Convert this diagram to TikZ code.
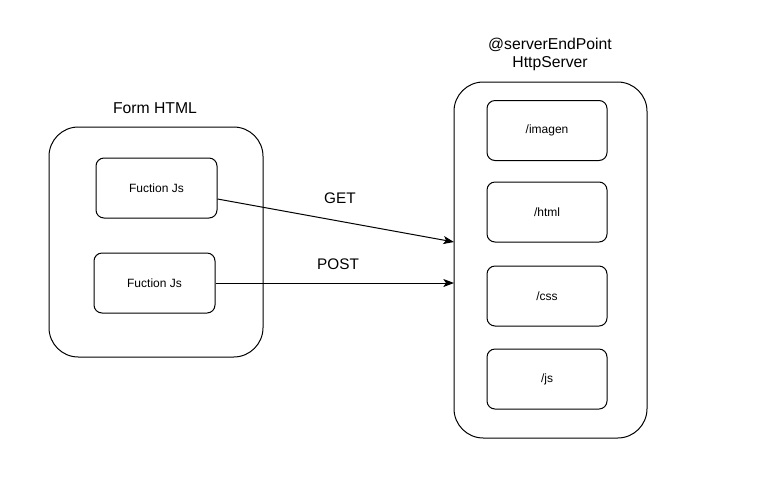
\documentclass[tikz,border=0pt]{standalone}
\usepackage{fontspec}
\setmainfont{Liberation Sans}
\usetikzlibrary{arrows.meta}
\begin{document}
\begin{tikzpicture}[x=0.75pt,y=-0.75pt,
  bigbox/.style={draw=black,line width=0.75pt,rounded corners=22pt,inner sep=0pt},
  smallbox/.style={draw=black,line width=0.75pt,rounded corners=6pt,inner sep=0pt,font=\fontsize{9pt}{10.8pt}\selectfont},
  lbl/.style={font=\fontsize{11.8pt}{14pt}\selectfont,align=center},
  elbl/.style={font=\fontsize{11.5pt}{13.8pt}\selectfont},
  conn/.style={draw=black,line width=0.75pt,-{Stealth[length=8pt,width=6pt,inset=2pt]}}]
\useasboundingbox (0,0) rectangle (773,490);
\fill[white] (0,0) rectangle (773,490);
% left container
\node[bigbox,minimum width=214*0.75pt,minimum height=230*0.75pt] (form) at (156,242) {};
\node[lbl] (formtitle) at (155,108) {Form HTML};
\node[smallbox,minimum width=121*0.75pt,minimum height=60*0.75pt] (f1) at (156.5,188) {Fuction Js};
\node[smallbox,minimum width=121*0.75pt,minimum height=60*0.75pt] (f2) at (154.5,283) {Fuction Js};
% right container
\node[bigbox,minimum width=193*0.75pt,minimum height=356*0.75pt] (srv) at (550.5,260) {};
\node[lbl] (srvtitle) at (550,54.5) {@serverEndPoint\\HttpServer};
\node[smallbox,minimum width=120*0.75pt,minimum height=60*0.75pt] (s1) at (547,130.5) {/imagen};
\node[smallbox,minimum width=120*0.75pt,minimum height=60*0.75pt] (s2) at (547,212) {/html};
\node[smallbox,minimum width=120*0.75pt,minimum height=60*0.75pt] (s3) at (547,296) {/css};
\node[smallbox,minimum width=120*0.75pt,minimum height=60*0.75pt] (s4) at (547,379) {/js};
% arrows
\coordinate (g1) at (454,242);
\coordinate (p1) at (454,283);
\draw[conn] (f1.east |- 0,199) -- (g1);
\draw[conn] (f2.east) -- (p1);
\node[elbl] (get) at (340,198) {GET};
\node[elbl] (post) at (338,264) {POST};
\end{tikzpicture}
\end{document}
